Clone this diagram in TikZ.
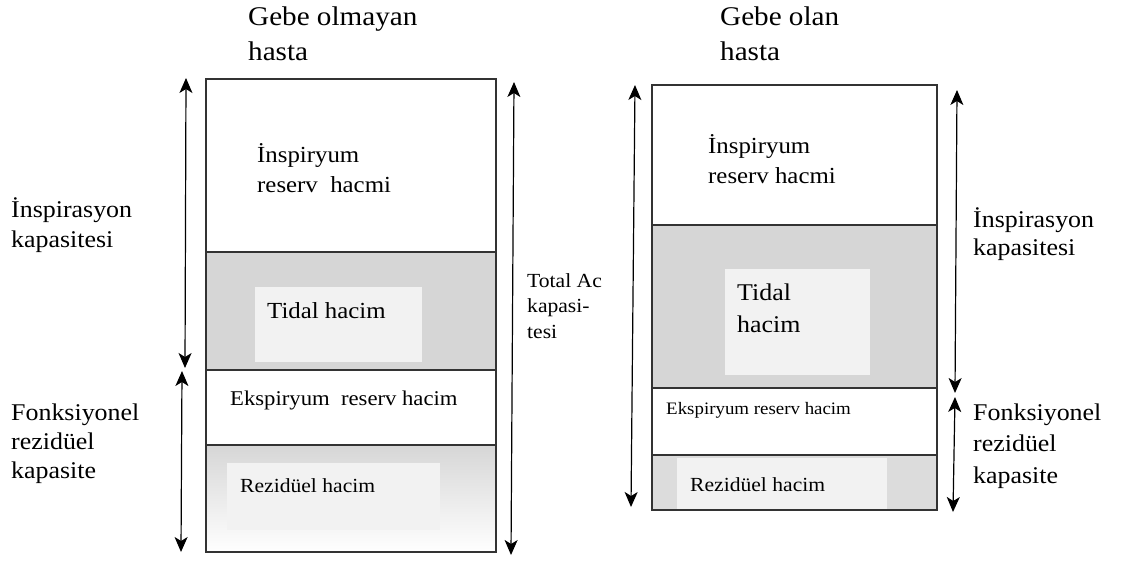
\documentclass[tikz,border=0pt]{standalone}
\usepackage{fontspec}
\setmainfont{Liberation Serif}[FakeStretch=1.08]
\usetikzlibrary{arrows.meta}

\definecolor{tidalgray}{gray}{0.84}
\definecolor{softgray}{gray}{0.95}

\begin{document}
\begin{tikzpicture}[x=1pt,y=1pt,
    >={Stealth[length=15pt,width=13pt,inset=4pt]},
    dimarrow/.style={<->, line width=1.2pt},
    wall/.style={draw=black!80, line width=1.3pt},
    lbl/.style={anchor=base west, inner sep=0pt, align=left}]

  \useasboundingbox (0,0) rectangle (1133,-560);

  % Gebe olmayan hasta
  \coordinate (nA) at (206,-79);
  \coordinate (nB) at (496,-552);

  \fill[tidalgray] (206,-252) rectangle (496,-370);
  \fill[softgray] (255,-287) rectangle (422,-362);
  \shade[top color=tidalgray, bottom color=white] (206,-445) rectangle (496,-552);
  \fill[softgray] (227,-463) rectangle (440,-530);

  \draw[wall] (nA) rectangle (nB);
  \draw[wall] (206,-252) -- (496,-252);
  \draw[wall] (206,-370) -- (496,-370);
  \draw[wall] (206,-445) -- (496,-445);

  % base anchor = last line
  \node[lbl, font=\fontsize{27}{35}\selectfont] (nTitle) at (248,-60) {Gebe olmayan\\hasta};
  \node[lbl, font=\fontsize{23}{30}\selectfont] (nIrv) at (257,-192) {İnspiryum\\reserv\ \ hacmi};
  \node[lbl, font=\fontsize{23}{28}\selectfont] (nTv) at (267,-318) {Tidal hacim};
  \node[lbl, font=\fontsize{21}{26}\selectfont] (nErv) at (230,-405) {Ekspiryum\ \ reserv hacim};
  \node[lbl, font=\fontsize{20}{25}\selectfont] (nRv) at (240,-492) {Rezidüel hacim};

  \node[lbl, font=\fontsize{24}{30}\selectfont] (nIc) at (11,-247) {İnspirasyon\\kapasitesi};
  \node[lbl, font=\fontsize{24}{29}\selectfont] (nFrc) at (11,-478) {Fonksiyonel\\rezidüel\\kapasite};
  \node[lbl, font=\fontsize{20}{25.5}\selectfont] (nTlc) at (527,-338) {Total Ac\\kapasi-\\tesi};

  \coordinate (nIcTop) at (186,-78);
  \coordinate (nIcBot) at (185,-368);
  \coordinate (nFrcTop) at (182,-371);
  \coordinate (nFrcBot) at (181,-552);
  \coordinate (nTlcTop) at (514,-82);
  \coordinate (nTlcBot) at (511,-555);

  \draw[dimarrow] (nIcTop) -- (nIcBot);
  \draw[dimarrow] (nFrcTop) -- (nFrcBot);
  \draw[dimarrow] (nTlcTop) -- (nTlcBot);

  % Gebe olan hasta
  \coordinate (pA) at (652,-85);
  \coordinate (pB) at (937,-510);

  \fill[tidalgray] (652,-225) rectangle (937,-388);
  \fill[softgray] (725,-269) rectangle (870,-375);
  \fill[tidalgray!85] (652,-455) rectangle (937,-510);
  \fill[softgray] (677,-458) rectangle (887,-510);

  \draw[wall] (pA) rectangle (pB);
  \draw[wall] (652,-225) -- (937,-225);
  \draw[wall] (652,-388) -- (937,-388);
  \draw[wall] (652,-455) -- (937,-455);

  \node[lbl, font=\fontsize{27}{35}\selectfont] (pTitle) at (720,-60) {Gebe olan\\hasta};
  \node[lbl, font=\fontsize{23}{30}\selectfont] (pIrv) at (708,-183) {İnspiryum\\reserv hacmi};
  \node[lbl, font=\fontsize{24}{32}\selectfont] (pTv) at (737,-332) {Tidal\\hacim};
  \node[lbl, font=\fontsize{17.5}{22}\selectfont] (pErv) at (666,-414) {Ekspiryum reserv hacim};
  \node[lbl, font=\fontsize{20}{25}\selectfont] (pRv) at (690,-491) {Rezidüel hacim};

  \node[lbl, font=\fontsize{24}{28}\selectfont] (pIc) at (973,-255) {İnspirasyon\\kapasitesi};
  \node[lbl, font=\fontsize{24}{31.5}\selectfont] (pFrc) at (973,-483) {Fonksiyonel\\rezidüel\\kapasite};

  \coordinate (pTlcTop) at (635,-85);
  \coordinate (pTlcBot) at (631,-507);
  \coordinate (pIcTop) at (957,-90);
  \coordinate (pIcBot) at (955,-393);
  \coordinate (pFrcTop) at (955,-397);
  \coordinate (pFrcBot) at (953,-512);

  \draw[dimarrow] (pTlcTop) -- (pTlcBot);
  \draw[dimarrow] (pIcTop) -- (pIcBot);
  \draw[dimarrow] (pFrcTop) -- (pFrcBot);
\end{tikzpicture}
\end{document}
